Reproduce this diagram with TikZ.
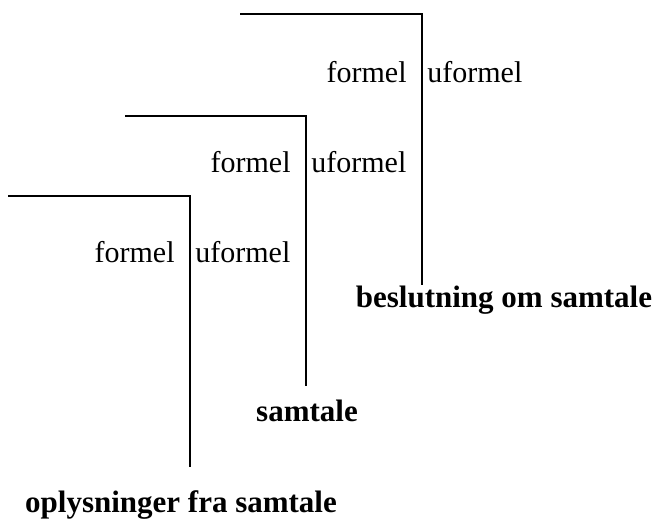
\documentclass[tikz,border=0pt]{standalone}
\usepackage{fontspec}
\setmainfont{Liberation Serif}
\usepackage{tikz}
\usetikzlibrary{calc,positioning}

\begin{document}
\begin{tikzpicture}[x=0.5pt,y=-0.5pt]
\tikzstyle{hook}=[line width=1pt]
\tikzstyle{lft}=[anchor=base east, inner sep=0pt, font=\fontsize{15}{18}\selectfont]
\tikzstyle{rgt}=[anchor=base west, inner sep=0pt, font=\fontsize{15}{18}\selectfont]
\tikzstyle{res}=[anchor=base, inner sep=0pt, font=\fontsize{15.5}{18}\selectfont\bfseries]
\pgfmathsetmacro{\gl}{15}
\pgfmathsetmacro{\gr}{5}
\useasboundingbox (0,0) rectangle (660,519);

% start, corner and foot of each hook
\coordinate (S1) at (240,14);
\coordinate (K1) at (422,14);
\coordinate (F1) at (422,285);
\coordinate (S2) at (125,116);
\coordinate (K2) at (306,116);
\coordinate (F2) at (306,386);
\coordinate (S3) at (8,196);
\coordinate (K3) at (190,196);
\coordinate (F3) at (190,467);

\draw[hook] (S1) -- (K1) -- (F1);
\draw[hook] (S2) -- (K2) -- (F2);
\draw[hook] (S3) -- (K3) -- (F3);

\node[lft] (f1) at (422-\gl,83) {formel};
\node[rgt] (u1) at (422+\gr,83) {uformel};
\node[lft] (f2) at (306-\gl,173) {formel};
\node[rgt] (u2) at (306+\gr,173) {uformel};
\node[lft] (f3) at (190-\gl,263) {formel};
\node[rgt] (u3) at (190+\gr,263) {uformel};

\node[res] (r1) at (504,307) {beslutning om samtale};
\node[res] (r2) at (307,422) {samtale};
\node[res] (r3) at (181,512) {oplysninger fra samtale};
\end{tikzpicture}
\end{document}
